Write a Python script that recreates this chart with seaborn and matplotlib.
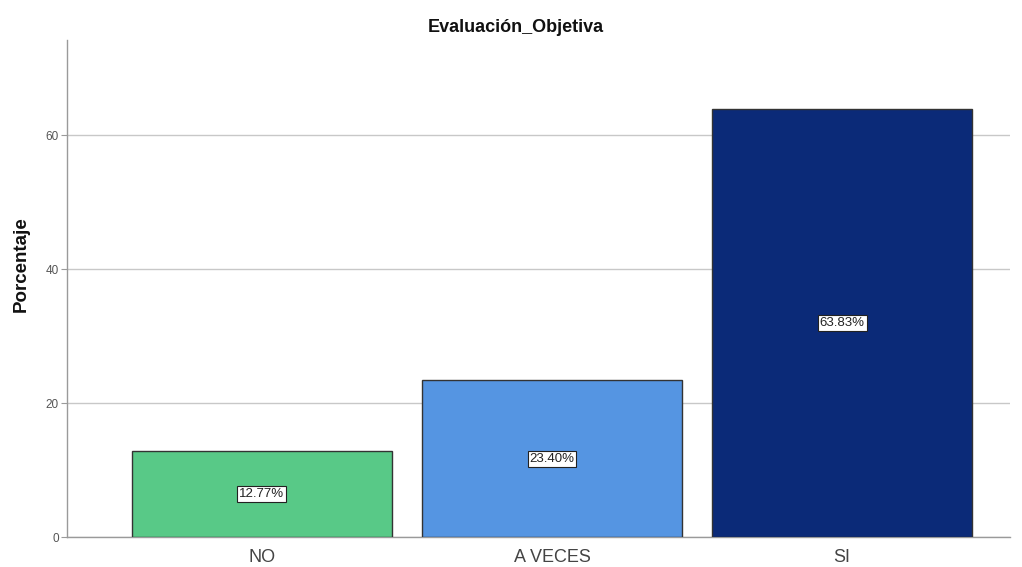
import matplotlib
matplotlib.use("Agg")
import matplotlib.pyplot as plt
import seaborn as sns
import pandas as pd

categories = ["NO", "A VECES", "SI"]
percentages = [12.77, 23.40, 63.83]
bar_colors = ["#58C987", "#5595E2", "#0B2A78"]
title = "Evaluación_Objetiva"
y_label = "Porcentaje"

sns.set_theme(style="white")
plt.rcParams["font.family"] = ["Liberation Sans", "DejaVu Sans"]

df = pd.DataFrame({"cat": categories, "pct": percentages})

fig = plt.figure(figsize=(10.22, 5.67), dpi=100)
ax = fig.add_axes([67 / 1022, 1 - 537 / 567, (1010 - 67) / 1022, (537 - 40) / 567])

sns.barplot(data=df, x="cat", y="pct", hue="cat", palette=bar_colors,
            saturation=1, width=0.897, edgecolor="#333333", linewidth=1.0,
            legend=False, ax=ax, zorder=3)

ax.set_ylim(0, 74.2)
ax.set_xlim(-0.672, 2.579)
ax.set_yticks([0, 20, 40, 60])
ax.yaxis.grid(True, color="#c8c8c8", linewidth=1.0, zorder=0)
ax.set_axisbelow(True)

for side in ["top", "right"]:
    ax.spines[side].set_visible(False)
for side in ["left", "bottom"]:
    ax.spines[side].set_color("#9a9a9a")
    ax.spines[side].set_linewidth(1.0)

ax.tick_params(axis="y", which="both", left=True, length=4, width=0.8,
               color="#9a9a9a", labelsize=8.5, labelcolor="#555555", pad=2)
ax.tick_params(axis="x", bottom=False, labelsize=13, labelcolor="#444444", pad=3)

ax.set_xlabel("")
ax.set_ylabel(y_label, fontsize=13.5, fontweight="bold", color="#111111")
ax.yaxis.set_label_coords(-0.04, 0.55)

# chart title centred over the whole figure
fig.text(0.505, 1 - 28 / 567, title, ha="center", va="center",
         fontsize=13, fontweight="bold", color="#111111")

for i, v in enumerate(percentages):
    ax.text(i, v / 2, f"{v:.2f}%", ha="center", va="center", fontsize=9.5,
            color="#222222", zorder=5,
            bbox=dict(boxstyle="square,pad=0.15", facecolor="white",
                      edgecolor="#222222", linewidth=0.8))

fig.savefig("out.png", dpi=100)
